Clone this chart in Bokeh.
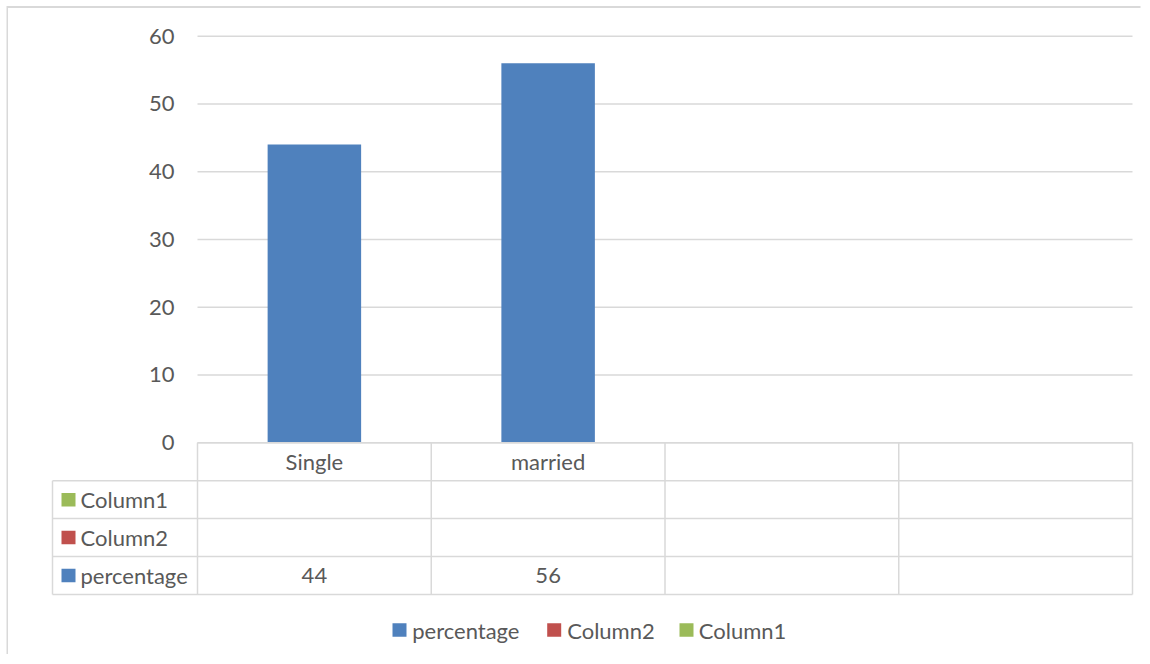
from bokeh.plotting import figure
from bokeh.models import Range1d, FixedTicker
from bokeh.embed import file_html
from bokeh.resources import INLINE
from bokeh.core.properties import value

# ---------------- data ----------------
categories = ["Single", "married", "", ""]
percentage = [44, 56, None, None]
column2 = [None, None, None, None]
column1 = [None, None, None, None]
y_ticks = [0, 10, 20, 30, 40, 50, 60]

table_rows = ["Column1", "Column2", "percentage"]          # data-table row order
table_values = {"Column1": column1, "Column2": column2, "percentage": percentage}
legend_order = ["percentage", "Column2", "Column1"]
series_colors = {"percentage": "#4F81BD", "Column2": "#C0504D", "Column1": "#9BBB59"}

# ---------------- layout constants (page pixels) ----------------
W, H = 1134, 648
PAGE = 8
MB_LEFT, MB_RIGHT = 36, 2
FRAME_L, FRAME_R = PAGE + MB_LEFT, PAGE + W - MB_RIGHT
FRAME_T, FRAME_B = PAGE, PAGE + H
CAT_X0, CAT_W = 197.0, 233.75      # pixel of category boundary 0, category width
Y0_PX, PX_PER_UNIT = 442.2, 6.775  # pixel of value 0, pixels per value unit
ROW_H = 37.95                      # table row height in pixels

TEXT_COLOR = "#595959"
LINE_COLOR = "#d9d9d9"
FONT = value("Lato")
FS = "22px"


def xp(px):
    return (px - CAT_X0) / CAT_W


def rowp(py):
    return -(py - Y0_PX) / ROW_H


n = len(categories)

p = figure(
    width=W, height=H,
    output_backend="svg", toolbar_location=None,
    x_range=Range1d(xp(FRAME_L), xp(FRAME_R)),
    y_range=Range1d((Y0_PX - FRAME_B) / PX_PER_UNIT, (Y0_PX - FRAME_T) / PX_PER_UNIT),
    x_axis_location=None,
    min_border_left=MB_LEFT, min_border_right=MB_RIGHT,
    min_border_top=0, min_border_bottom=0,
    margin=(PAGE, 0, 0, PAGE),
    styles={"box-shadow": "-1.5px -2px 0 0 #d9d9d9"},
)
p.extra_y_ranges = {"rows": Range1d(rowp(FRAME_B), rowp(FRAME_T))}
p.outline_line_color = None
p.background_fill_color = "white"
p.border_fill_color = "white"
p.xgrid.visible = False
p.ygrid.visible = False

# y axis at fixed location, labels right-aligned left of plot area
p.yaxis.fixed_location = xp(178)
p.yaxis.ticker = FixedTicker(ticks=y_ticks)
p.yaxis.major_label_standoff = 4
p.yaxis.major_tick_out = 0
p.yaxis.major_tick_in = 0
p.yaxis.minor_tick_out = 0
p.yaxis.minor_tick_in = 0
p.yaxis.axis_line_color = None
p.yaxis.major_label_text_font = "Lato"
p.yaxis.major_label_text_font_size = FS
p.yaxis.major_label_text_color = TEXT_COLOR

# gridlines over the plot area
p.segment(x0=[0] * len(y_ticks), x1=[n] * len(y_ticks), y0=y_ticks, y1=y_ticks,
          line_color=LINE_COLOR, line_width=1.5)

# bars
xs = [i + 0.5 for i, v in enumerate(percentage) if v is not None]
tops = [v for v in percentage if v is not None]
p.vbar(x=xs, top=tops, bottom=0, width=0.4,
       fill_color=series_colors["percentage"], line_color=None)

# ---------------- data table ----------------
n_rows = len(table_rows) + 1
x_left = xp(52)
hx0, hx1, hy = [0], [n], [0]
for r in range(1, n_rows + 1):
    hx0.append(x_left)
    hx1.append(n)
    hy.append(-r)
p.segment(x0=hx0, x1=hx1, y0=hy, y1=hy, line_color=LINE_COLOR, line_width=1.5,
          y_range_name="rows")
vx = [x_left] + list(range(n + 1))
vy0 = [-1] + [0] * (n + 1)
vy1 = [-n_rows] * (n + 2)
p.segment(x0=vx, x1=vx, y0=vy0, y1=vy1, line_color=LINE_COLOR, line_width=1.5,
          y_range_name="rows")

# header (category labels)
p.text(x=[i + 0.5 for i in range(n)], y=[-0.5] * n, text=categories,
       text_align="center", text_baseline="middle", text_font=FONT,
       text_font_size=FS, text_color=TEXT_COLOR, y_range_name="rows")

# series rows
for r, name in enumerate(table_rows):
    yc = -(r + 1.5)
    p.rect(x=[xp(68)], y=[yc], width=14, height=13.5, width_units="screen",
           height_units="screen", fill_color=series_colors[name], line_color=None,
           y_range_name="rows")
    p.text(x=[xp(80)], y=[yc], text=[name], text_align="left", text_baseline="middle",
           text_font=FONT, text_font_size=FS, text_color=TEXT_COLOR, y_range_name="rows")
    vals = table_values[name]
    vx_ = [i + 0.5 for i, v in enumerate(vals) if v is not None]
    vt_ = [str(v) for v in vals if v is not None]
    if vx_:
        p.text(x=vx_, y=[yc] * len(vx_), text=vt_, text_align="center",
               text_baseline="middle", text_font=FONT, text_font_size=FS,
               text_color=TEXT_COLOR, y_range_name="rows")

# ---------------- legend ----------------
legend_y = rowp(629.5)
legend_square_px = [399.0, 553.7, 686.0]
legend_text_px = [411.7, 566.7, 698.3]
for name, sq, tx in zip(legend_order, legend_square_px, legend_text_px):
    p.rect(x=[xp(sq)], y=[legend_y], width=14, height=13.5, width_units="screen",
           height_units="screen", fill_color=series_colors[name], line_color=None,
           y_range_name="rows")
    p.text(x=[xp(tx)], y=[legend_y], text=[name], text_align="left",
           text_baseline="middle", text_font=FONT, text_font_size=FS,
           text_color=TEXT_COLOR, y_range_name="rows")

open("out.html", "w").write(file_html(p, INLINE))
